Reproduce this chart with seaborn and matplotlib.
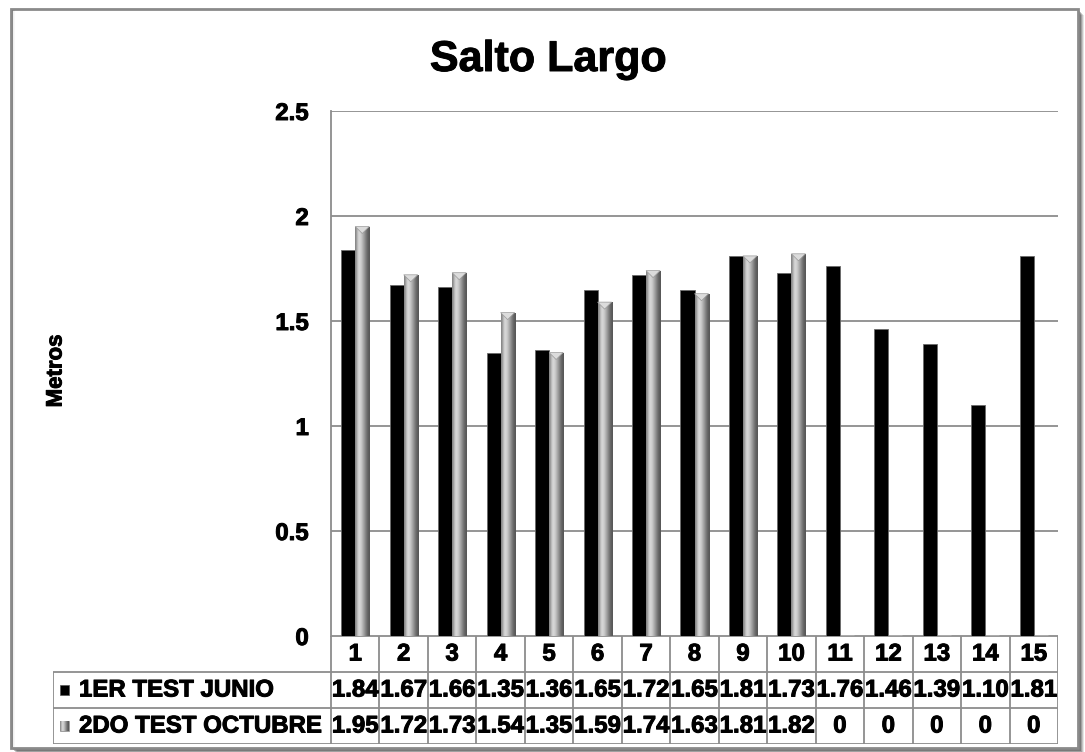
import numpy as np
import pandas as pd
import matplotlib
matplotlib.use("Agg")
import matplotlib.pyplot as plt
import matplotlib.patheffects as pe
from matplotlib.patches import Rectangle, Polygon
import seaborn as sns

# ---- data -------------------------------------------------------------
alumnos = [str(i) for i in range(1, 16)]
series = ["1ER TEST JUNIO", "2DO TEST OCTUBRE"]
junio = [1.84, 1.67, 1.66, 1.35, 1.36, 1.65, 1.72, 1.65, 1.81, 1.73,
         1.76, 1.46, 1.39, 1.10, 1.81]
octubre = [1.95, 1.72, 1.73, 1.54, 1.35, 1.59, 1.74, 1.63, 1.81, 1.82,
           0, 0, 0, 0, 0]
yticks = [0, 0.5, 1, 1.5, 2, 2.5]
ytick_labels = ["0", "0.5", "1", "1.5", "2", "2.5"]

df = pd.DataFrame({
    "Alumno": alumnos * 2,
    "Metros": junio + octubre,
    "Test": [series[0]] * len(alumnos) + [series[1]] * len(alumnos),
})

# ---- style ------------------------------------------------------------
sns.set_theme(style="white")
plt.rcParams["font.family"] = ["Liberation Sans", "DejaVu Sans"]
plt.rcParams["font.weight"] = "bold"
plt.rcParams["text.color"] = "black"
plt.rcParams["ytick.color"] = "black"
plt.rcParams["xtick.color"] = "black"

# slightly heavier strokes for all the bold text
HEAVY = [pe.withStroke(linewidth=0.7, foreground="black")]

W, H = 1085, 752
fig = plt.figure(figsize=(W / 100, H / 100), dpi=100)
fig.patch.set_facecolor("white")


def fx(px):
    return px / W


def fy(py):
    return 1 - py / H


# ---- outer chart frame with soft shadow ------------------------------
for i, a in enumerate([0.10, 0.14, 0.18, 0.24, 0.30]):
    off = 6 - i
    fig.patches.append(Rectangle((fx(11 + off), fy(748 + off)),
                                 fx(1078) - fx(11), fy(9) - fy(748),
                                 transform=fig.transFigure, facecolor="black",
                                 edgecolor="none", alpha=a, zorder=-10))
fig.patches.append(Rectangle((fx(11), fy(748)), fx(1078) - fx(11), fy(9) - fy(748),
                             transform=fig.transFigure, facecolor="white",
                             edgecolor="#8a8a8a", linewidth=2.0, zorder=-5))
# faint inner shading along the left edge of the frame
for i, a in enumerate([0.10, 0.06, 0.03]):
    fig.patches.append(Rectangle((fx(12 + i), fy(747)), fx(1) , fy(10) - fy(747),
                                 transform=fig.transFigure, facecolor="black",
                                 edgecolor="none", alpha=a, zorder=-4))

BLACK = "#000000"
GRAY = "#a6a6a6"
LINE = "#8c8c8c"

# ---- main bar chart ---------------------------------------------------
x0_px, x1_px, ytop_px, ybot_px = 331, 1058, 111, 636
ax = fig.add_axes([fx(x0_px), fy(ybot_px), fx(x1_px) - fx(x0_px), fy(ytop_px) - fy(ybot_px)])
ax.set_facecolor("none")

sns.barplot(data=df, x="Alumno", y="Metros", hue="Test", hue_order=series,
            palette=[BLACK, GRAY], width=0.58, gap=0, dodge=True,
            errorbar=None, saturation=1, legend=False, ax=ax, zorder=3)

n = len(alumnos)
bars = list(ax.patches)
black_bars, gray_bars = bars[:n], bars[n:2 * n]

for p in black_bars:
    p.set_edgecolor("#6a6a6a")
    p.set_linewidth(0.6)

# cylinder-like shading across the grey bars
grad = np.array([[0.52, 0.66, 0.80, 0.85, 0.82, 0.76, 0.68, 0.60, 0.52, 0.44, 0.38, 0.34]])
tri_h = 7 * 2.5 / (ybot_px - ytop_px)
for p in gray_bars:
    h = p.get_height()
    if h <= 0:
        continue
    x, w = p.get_x(), p.get_width()
    p.set_edgecolor("#7a7a7a")
    p.set_linewidth(0.5)
    im = ax.imshow(grad, extent=[x, x + w, 0, h], aspect="auto", cmap="gray",
                   vmin=0, vmax=1, interpolation="bicubic", zorder=3.5)
    im.set_clip_path(p)
    ax.add_patch(Polygon([(x, h), (x + w, h), (x + w / 2, h - tri_h)],
                         closed=True, facecolor="#dcdcdc", edgecolor="#9a9a9a",
                         linewidth=0.5, zorder=3.6))

ax.set_xlim(-0.5, n - 0.5)
ax.set_ylim(0, 2.5)
ax.set_yticks(yticks)
ax.set_yticklabels(ytick_labels, fontsize=17.3, fontweight="bold")
for t in ax.get_yticklabels():
    t.set_path_effects(HEAVY)
ax.tick_params(axis="y", length=0, pad=16)
ax.set_xticks([])
ax.set_xlabel("")
ax.set_ylabel("")
ax.yaxis.grid(True, color=LINE, linewidth=1.3, zorder=1)
ax.set_axisbelow(True)
for side in ["top", "right", "bottom"]:
    ax.spines[side].set_visible(False)
ax.spines["left"].set_color(LINE)
ax.spines["left"].set_linewidth(1.3)

fig.text(fx(548), fy(71), "Salto Largo", ha="center", va="baseline",
         fontsize=31, fontweight="bold", path_effects=HEAVY)
fig.text(fx(56), fy(371), "Metros", rotation=90, ha="center", va="center",
         fontsize=16, fontweight="bold", path_effects=HEAVY)

# ---- data table under the axis ----------------------------------------
col_px = (x1_px - x0_px) / n
lab_left_px, tab_bot_px = 53, 744
lab_units = (x0_px - lab_left_px) / col_px
tax = fig.add_axes([fx(lab_left_px), fy(tab_bot_px), fx(x1_px) - fx(lab_left_px),
                    fy(ybot_px) - fy(tab_bot_px)])
tax.set_xlim(-0.5 - lab_units, n - 0.5)
tax.set_ylim(3, 0)
tax.axis("off")

lkw = dict(color=LINE, linewidth=1.3, solid_capstyle="butt")
xl = -0.5 - lab_units
tax.plot([-0.5, n - 0.5], [0, 0], **lkw)
for yv in (1, 2, 3):
    tax.plot([xl, n - 0.5], [yv, yv], **lkw)
tax.plot([xl, xl], [1, 3], **lkw)
for k in range(n + 1):
    tax.plot([k - 0.5, k - 0.5], [0, 3], **lkw)

tfs = 17.3
tkw = dict(ha="center", va="center", fontsize=tfs, fontweight="bold", path_effects=HEAVY)
for i, a in enumerate(alumnos):
    tax.text(i, 0.5, a, **tkw)
    tax.text(i, 1.5, f"{junio[i]:.2f}", **tkw)
    v = octubre[i]
    tax.text(i, 2.5, "0" if v == 0 else f"{v:.2f}", **tkw)


def px2x(px):
    return xl + (px - lab_left_px) / col_px


sq_w = 9 / col_px
sq_h = 10 / 36
for r, name in enumerate(series):
    yc = 1.5 + r
    x_sq = px2x(60)
    if r == 0:
        tax.add_patch(Rectangle((x_sq, yc - sq_h / 2), sq_w, sq_h,
                                facecolor=BLACK, edgecolor="#555555", linewidth=0.5))
    else:
        sq_patch = Rectangle((x_sq, yc - sq_h / 2), sq_w, sq_h,
                             facecolor=GRAY, edgecolor="#8a8a8a", linewidth=0.5)
        tax.add_patch(sq_patch)
        im = tax.imshow(grad, extent=[x_sq, x_sq + sq_w, yc + sq_h / 2, yc - sq_h / 2],
                        aspect="auto", cmap="gray", vmin=0, vmax=1,
                        interpolation="bicubic", zorder=3)
        im.set_clip_path(sq_patch)
    tax.text(px2x(79), yc, name, ha="left", va="center", fontsize=tfs,
             fontweight="bold", path_effects=HEAVY)
tax.set_xlim(-0.5 - lab_units, n - 0.5)
tax.set_ylim(3, 0)

fig.savefig("out.png", dpi=100, facecolor="white")
